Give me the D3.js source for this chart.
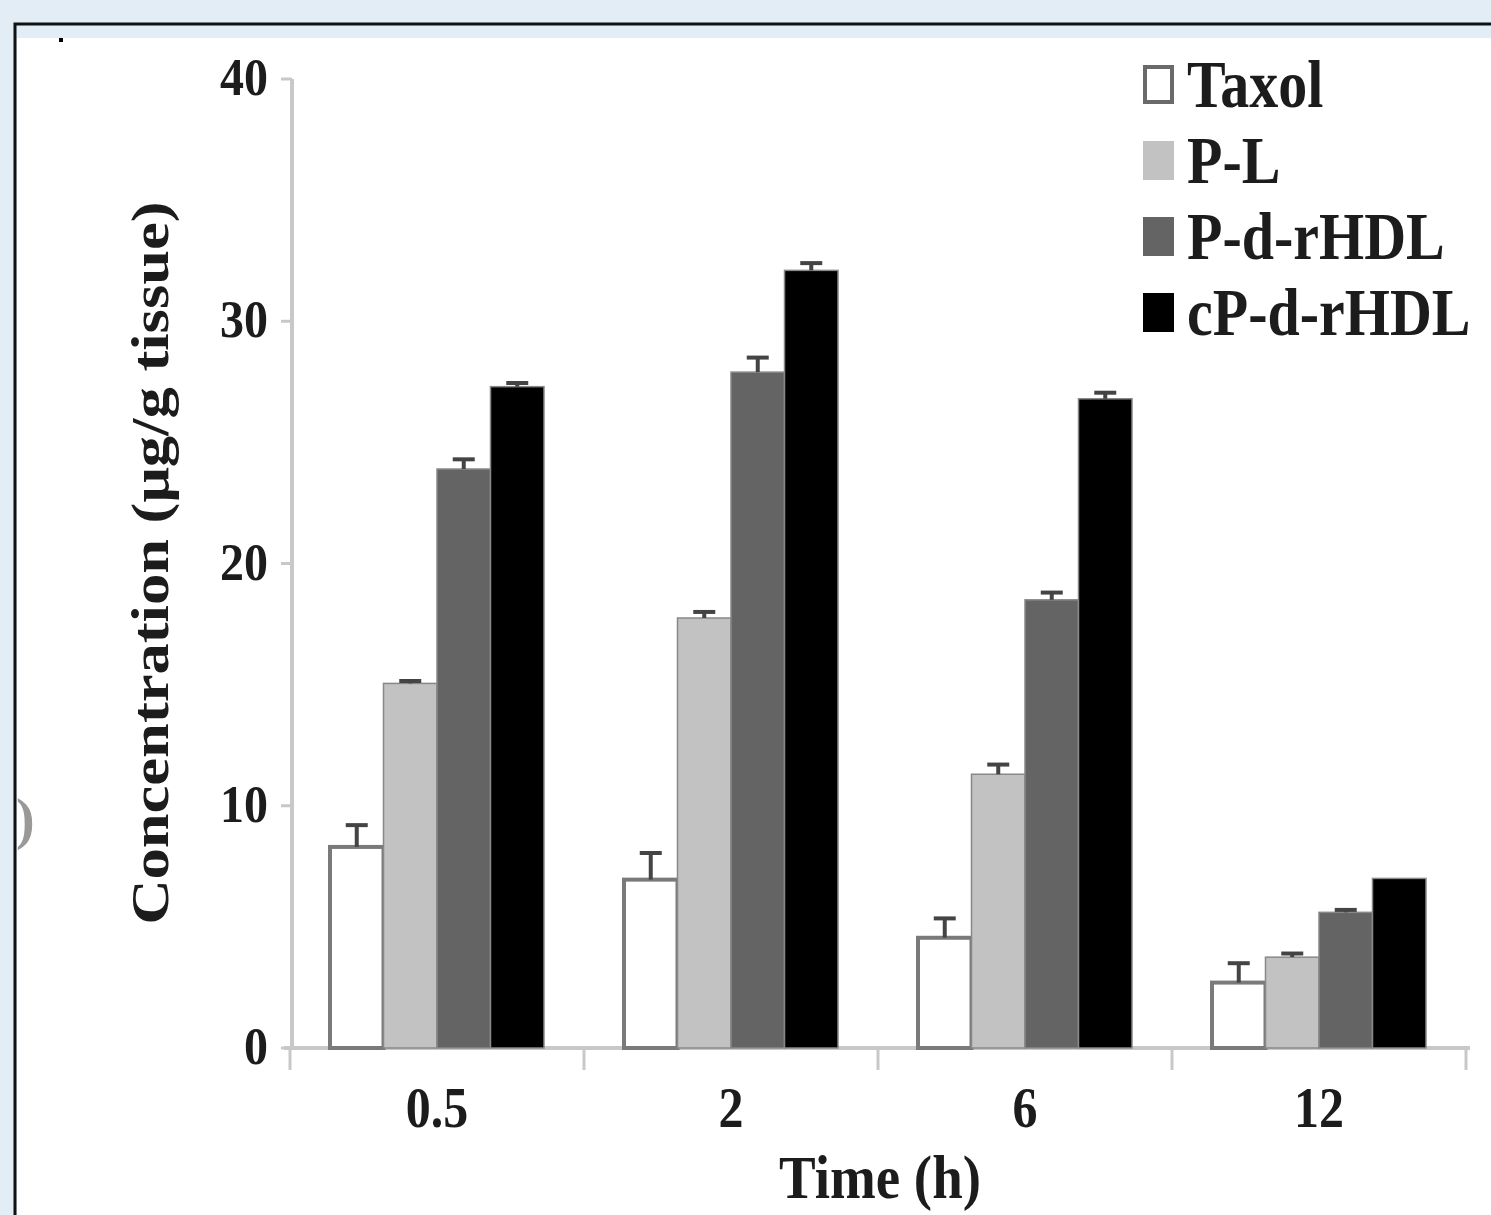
<!DOCTYPE html>
<html>
<head>
<meta charset="utf-8">
<script src="https://cdn.jsdelivr.net/npm/d3@7"></script>
<style>
  body { margin: 0; background: #e3edf6; }
  svg { display: block; }
  text { font-family: "Liberation Serif", "Times New Roman", serif; font-weight: bold; fill: #1c1c1c; }
</style>
</head>
<body>
<script>
// data
const times = ['0.5', '2', '6', '12'];
const groups = ['Taxol', 'P-L', 'P-d-rHDL', 'cP-d-rHDL'];
const taxol = [8.3, 6.95, 4.55, 2.7];
const pL = [15.05, 17.75, 11.3, 3.75];
const pdHDL = [23.9, 27.9, 18.5, 5.6];
const cpdHDL = [27.3, 32.1, 26.8, 7.0];
const taxolErr = [0.9, 1.1, 0.8, 0.8];
const pLErr = [0.1, 0.25, 0.4, 0.15];
const pdHDLErr = [0.4, 0.6, 0.3, 0.1];
const cpdHDLErr = [0.15, 0.3, 0.25, 0];
const yTicks = [0, 10, 20, 30, 40];

const fills = ['#ffffff', '#c2c2c2', '#646464', '#000000'];
const series = [taxol, pL, pdHDL, cpdHDL];
const errs = [taxolErr, pLErr, pdHDLErr, cpdHDLErr];

const W = 1491, H = 1215;
const svg = d3.select('body').append('svg')
  .attr('width', W)
  .attr('height', H);

// panel
svg.append('rect')
  .attr('x', 15).attr('y', 24).attr('width', W).attr('height', H)
  .attr('fill', '#e3edf6')
  .attr('stroke', '#111').attr('stroke-width', 3);
svg.append('rect')
  .attr('x', 17).attr('y', 38).attr('width', W).attr('height', H)
  .attr('fill', '#fff');
svg.append('rect').attr('x', 59).attr('y', 38).attr('width', 4).attr('height', 4).attr('fill', '#000');
svg.append('text').attr('x', 16).attr('y', 838)
  .style('font-size', '56px').style('fill', '#999')
  .text(')');

// scales
const x0 = d3.scaleBand().domain(times).range([290, 1466]);
const x1 = d3.scaleBand().domain(groups).range([40, 254]);
const y = d3.scaleLinear().domain([0, 40]).range([1048, 79]);

const stretch = (sel, sy) => sel.attr('transform', function () {
  const t = d3.select(this);
  return `translate(${t.attr('data-x')},${t.attr('data-y')}) scale(1,${sy})`;
});

// axes
const axisColor = '#c8c8c8';
svg.append('line')
  .attr('x1', 292).attr('x2', 292).attr('y1', y(40)).attr('y2', y(0))
  .attr('stroke', axisColor).attr('stroke-width', 4);
svg.selectAll('.ytick').data(yTicks).join('line')
  .attr('class', 'ytick')
  .attr('x1', 281).attr('x2', 292).attr('y1', d => y(d)).attr('y2', d => y(d))
  .attr('stroke', axisColor).attr('stroke-width', 3);
svg.append('line')
  .attr('x1', 284).attr('x2', 1470).attr('y1', y(0)).attr('y2', y(0))
  .attr('stroke', axisColor).attr('stroke-width', 4);
const bounds = times.map(t => x0(t)).concat([x0.range()[1]]);
svg.selectAll('.xtick').data(bounds).join('line')
  .attr('class', 'xtick')
  .attr('x1', d => d).attr('x2', d => d).attr('y1', y(0)).attr('y2', y(0) + 22)
  .attr('stroke', axisColor).attr('stroke-width', 3);

svg.selectAll('.ylab').data(yTicks).join('text')
  .attr('class', 'ylab')
  .attr('data-x', 268).attr('data-y', d => y(d) + 16)
  .attr('text-anchor', 'end')
  .style('font-size', '48px')
  .text(d => d)
  .call(stretch, 1.12);

svg.selectAll('.xlab').data(times).join('text')
  .attr('class', 'xlab')
  .attr('data-x', d => x0(d) + x0.bandwidth() / 2).attr('data-y', 1127)
  .attr('text-anchor', 'middle')
  .style('font-size', '50px')
  .text(d => d)
  .call(stretch, 1.12);

svg.append('text')
  .attr('text-anchor', 'middle')
  .attr('transform', 'translate(880,1198) scale(1,1.12)')
  .style('font-size', '55px')
  .text('Time (h)');

svg.append('text')
  .attr('text-anchor', 'middle')
  .attr('transform', 'translate(168,563) rotate(-90) scale(1.18,1)')
  .style('font-size', '53px')
  .text('Concentration (μg/g tissue)');

// bars
const rows = times.flatMap((t, i) => groups.map((g, j) => ({ t, g, j, v: series[j][i], e: errs[j][i] })));
const bar = svg.selectAll('.bar').data(rows).join('g').attr('class', 'bar');
bar.append('rect')
  .attr('x', d => x0(d.t) + x1(d.g))
  .attr('width', x1.bandwidth())
  .attr('y', d => y(d.v))
  .attr('height', d => y(0) - y(d.v))
  .attr('fill', d => fills[d.j])
  .attr('stroke', d => d.j === 0 ? '#7a7a7a' : '#888')
  .attr('stroke-width', d => d.j === 0 ? 4 : 1.5);
bar.filter(d => d.e > 0).append('line')
  .attr('x1', d => x0(d.t) + x1(d.g) + x1.bandwidth() / 2)
  .attr('x2', d => x0(d.t) + x1(d.g) + x1.bandwidth() / 2)
  .attr('y1', d => y(d.v))
  .attr('y2', d => y(d.v + d.e))
  .attr('stroke', '#444').attr('stroke-width', 4);
bar.filter(d => d.e > 0).append('line')
  .attr('x1', d => x0(d.t) + x1(d.g) + x1.bandwidth() / 2 - 11)
  .attr('x2', d => x0(d.t) + x1(d.g) + x1.bandwidth() / 2 + 11)
  .attr('y1', d => y(d.v + d.e))
  .attr('y2', d => y(d.v + d.e))
  .attr('stroke', '#444').attr('stroke-width', 4);

// legend
const legend = svg.selectAll('.leg').data(groups).join('g')
  .attr('class', 'leg')
  .attr('transform', (d, i) => `translate(1143,${65 + i * 76})`);
legend.append('rect')
  .attr('x', 2).attr('y', 2).attr('width', 27).attr('height', 35)
  .attr('fill', (d, i) => fills[i])
  .attr('stroke', (d, i) => i === 0 ? '#6a6a6a' : fills[i])
  .attr('stroke-width', 4);
legend.append('text')
  .attr('transform', 'translate(44,42) scale(1,1.15)')
  .style('font-size', '58px')
  .text(d => d);
</script>
</body>
</html>
